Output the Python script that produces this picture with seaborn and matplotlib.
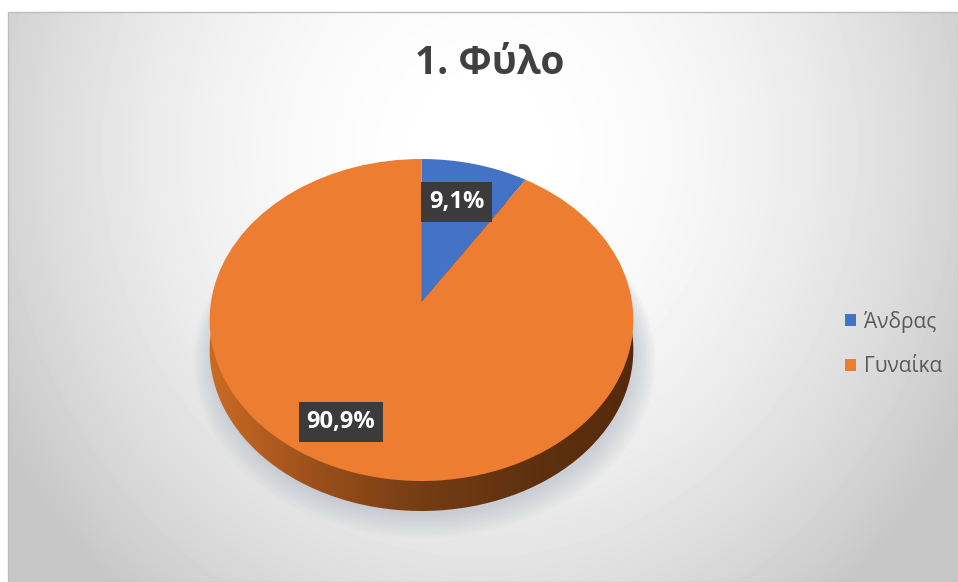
import numpy as np
import matplotlib
matplotlib.use('Agg')
import matplotlib.pyplot as plt
import seaborn as sns
from matplotlib.transforms import Transform, Affine2D
from matplotlib.colors import LinearSegmentedColormap
from matplotlib.patches import Rectangle, Circle

# ---- data ----
categories = ['Άνδρας', 'Γυναίκα']
values = [9.1, 90.9]
colors = ['#4472C4', '#ED7D31']
title = '1. Φύλο'

sns.set_theme(style='white')
plt.rcParams['font.family'] = ['Open Sans', 'DejaVu Sans']

W, H = 958, 582
fig = plt.figure(figsize=(W / 100, H / 100), dpi=100)
fig.patch.set_facecolor('white')
ax = fig.add_axes([0, 0, 1, 1])


class Persp(Transform):
    """Projective tilt of the unit pie into pixel-like data coords."""
    input_dims = 2
    output_dims = 2
    is_separable = False
    has_inverse = False

    def __init__(self, cx, cy, kx, ky, b):
        super().__init__()
        self.cx, self.cy, self.kx, self.ky, self.b = cx, cy, kx, ky, b

    def transform_non_affine(self, xy):
        xy = np.asarray(xy, dtype=float)
        x, y = xy[:, 0], xy[:, 1]
        w = 1 + self.b * y
        return np.column_stack([self.cx + self.kx * x / w, self.cy - self.ky * y / w])


persp = Persp(cx=421.5, cy=302, kx=210.5, ky=159, b=0.1118)
depth = 30

# ---- background radial gradient ----
yy, xx = np.mgrid[12:H, 8:W] + 0.5
d = np.hypot((xx - 480) / 520, (yy - 150) / 560)
bg = np.clip(1 - 0.2 * d ** 2, 0.78, 1)
ax.imshow(bg, cmap='gray', vmin=0, vmax=1, extent=(8, W, H, 12), aspect='auto',
          zorder=0, interpolation='bilinear')
ax.add_patch(Rectangle((8, 12), W - 8, H - 12, fill=False, edgecolor='#bdbdbd', lw=1, zorder=1))

# ---- soft shadow under the pie ----
for i in range(10):
    sh = Circle((0, 0), 1.0 + 0.01 * i, facecolor='#7d8ca3', edgecolor='none',
                alpha=0.03, zorder=1.5)
    sh.set_transform(persp + Affine2D().translate(3, depth + 3 + 0.6 * i) + ax.transData)
    ax.add_patch(sh)

# ---- side of the 3D pie ----
side_wedges, _ = ax.pie(values, startangle=90, counterclock=False, colors=colors)
side_tr = persp + Affine2D().translate(0, depth) + ax.transData
side_cmap = LinearSegmentedColormap.from_list(
    'side', ['#cc6c25', '#9c501a', '#743d14', '#5f310e', '#54290b'])
grad = np.linspace(0, 1, 256)[None, :].repeat(2, 0)
for w in side_wedges:
    w.set_transform(side_tr)
    w.set_facecolor('none')
    w.set_edgecolor('none')
    w.set_zorder(2)
    im = ax.imshow(grad, cmap=side_cmap, extent=(205, 640, 530, 150), aspect='auto',
                   zorder=2, interpolation='bilinear')
    im.set_clip_path(w)

# ---- top of the pie ----
fmt = lambda p: f'{p:.1f}%'.replace('.', ',')
wedges, texts, autotexts = ax.pie(
    values, startangle=90, counterclock=False, colors=colors, autopct=fmt,
    pctdistance=0.7, wedgeprops=dict(linewidth=0),
    textprops=dict(color='white', fontsize=17, fontweight='bold'))
top_tr = persp + ax.transData
for w in wedges:
    w.set_transform(top_tr)
    w.set_zorder(3)

label_shift = [1.5, -10.5]
label_r = [0.70, 0.78]
for w, t, sh, r in zip(wedges, autotexts, label_shift, label_r):
    ang = np.deg2rad((w.theta1 + w.theta2) / 2 + sh)
    t.set_position((r * np.cos(ang), r * np.sin(ang)))
    t.set_transform(top_tr)
    t.set_zorder(5)
    t.set_bbox(dict(boxstyle='square,pad=0.33', fc='#3b3b3b', ec='none'))

ax.set_xlim(0, W)
ax.set_ylim(H, 0)
ax.set_aspect('auto')
ax.set_axis_off()

# ---- title ----
ax.text(490, 63, title, ha='center', va='center', fontsize=28, fontweight='bold',
        color='#404040', zorder=6)

# ---- legend ----
leg = ax.legend(wedges, categories, loc='center left',
                bbox_to_anchor=(845 / W, 1 - 344 / H), frameon=False,
                handlelength=0.55, handleheight=0.55, handletextpad=0.35,
                labelspacing=1.15, fontsize=15, borderpad=0, borderaxespad=0)
for t in leg.get_texts():
    t.set_color('#595959')

fig.savefig('out.png', dpi=100, facecolor='white')
